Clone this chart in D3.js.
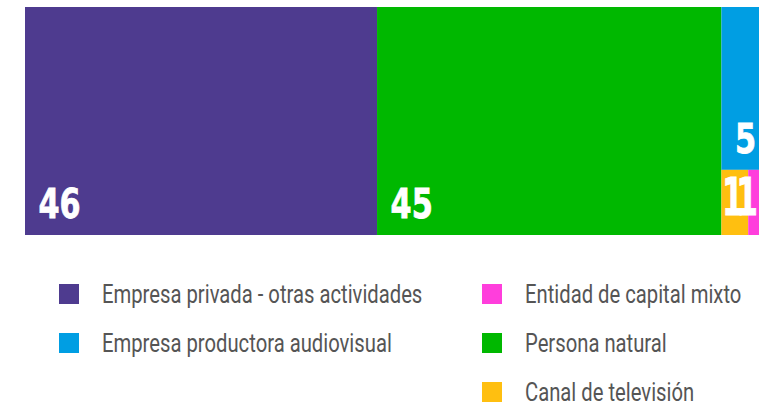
<!DOCTYPE html>
<html>
<head>
<meta charset="utf-8">
<script src="https://cdn.jsdelivr.net/npm/d3@7"></script>
<style>
  body { margin: 0; background: #fff; overflow: hidden; }
  svg { display: block; }
</style>
</head>
<body>
<div id="chart"></div>
<script>
"use strict";
// treemap of categories, clipped at the right edge like the original

var svgWidth = 759;
var svgHeight = 407;

// data
var categories = ["Empresa privada - otras actividades", "Persona natural",
                  "Empresa productora audiovisual", "Canal de televisión", "Entidad de capital mixto"];
var values = [46, 45, 5, 1, 1];
var colors = ["#4E3B8F", "#00B800", "#009EE3", "#FFBF10", "#FF3EDC"];
// legend order (two columns)
var legendOrder = ["Empresa privada - otras actividades", "Empresa productora audiovisual",
                   "Entidad de capital mixto", "Persona natural", "Canal de televisión"];

var color = d3.scaleOrdinal().domain(categories).range(colors);

// nest: big blocks side by side, small ones stacked in the last column
var leaf = function(i){ return {name: categories[i], value: values[i]}; };
var tree = {name: "root", children: [
    leaf(0), leaf(1),
    {name: "g1", children: [leaf(2), {name: "g2", children: [leaf(3), leaf(4)]}]}
]};

var mapW = 750, mapH = 228;
var mapLeft = 25, mapTop = 7;
// no condensed fonts available, squeeze horizontally
var labelSquash = 0.74;
var smallSquash = 0.6;
var legendSquash = 0.81;

var root = d3.hierarchy(tree).sum(function(d){ return d.value || 0; });
d3.treemap().size([mapW, mapH]).tile(d3.treemapSliceDice).paddingInner(0)(root);

var svg = d3.select("#chart").append("svg")
    .attr("width", svgWidth)
    .attr("height", svgHeight);

svg.append("rect").attr("width", svgWidth).attr("height", svgHeight).attr("fill", "#fff");

var g = svg.append("g").attr("transform", "translate(" + mapLeft + "," + mapTop + ")");

var leaves = root.leaves();

g.selectAll("rect.cell")
    .data(leaves)
    .enter().append("rect")
    .attr("class", "cell")
    .attr("x", function(d){ return d.x0; })
    .attr("y", function(d){ return d.y0; })
    .attr("width", function(d){ return d.x1 - d.x0; })
    .attr("height", function(d){ return d.y1 - d.y0; })
    .attr("fill", function(d){ return color(d.data.name); });

var isSmall = function(d){ return (d.x1 - d.x0) < 30; };

var labels = g.selectAll("g.lbl")
    .data(leaves)
    .enter().append("g")
    .attr("class", "lbl");

labels.append("text")
    .text(function(d){ return d.data.value; })
    .attr("font-family", "'DejaVu Sans', sans-serif")
    .attr("font-weight", "bold")
    .attr("font-size", function(d){ return isSmall(d) ? 52 : 41; })
    .attr("fill", "#fff")
    .attr("stroke", "#fff")
    .attr("stroke-width", 0.8);

// keep labels inside the visible area
labels.attr("transform", function(d){
    var s = isSmall(d) ? smallSquash : labelSquash;
    var w = d3.select(this).select("text").node().getComputedTextLength() * s;
    var x = d.x0 + (isSmall(d) ? 0.6 : 13.5);
    x = Math.min(x, svgWidth - mapLeft - 1 - w);
    var y = d.y1 - (isSmall(d) ? 20 : 17);
    return "translate(" + x + "," + y + ") scale(" + s + ",1)";
});

// legend
var legend = svg.append("g").attr("class", "legend");
var colX = [59, 482];
var rowY = [284, 333, 382];

var items = legend.selectAll("g.item")
    .data(legendOrder)
    .enter().append("g")
    .attr("class", "item")
    .attr("transform", function(d, i){
        var c = i < 2 ? 0 : 1;
        var r = i < 2 ? i : i - 2;
        return "translate(" + colX[c] + "," + rowY[r] + ")";
    });

items.append("rect")
    .attr("width", 20)
    .attr("height", 20)
    .attr("fill", function(d){ return color(d); });

items.append("text")
    .attr("transform", "translate(43,19) scale(" + legendSquash + ",1)")
    .attr("font-family", "Roboto, sans-serif")
    .attr("font-size", 25)
    .attr("fill", "#555")
    .text(function(d){ return d; });
</script>
</body>
</html>
